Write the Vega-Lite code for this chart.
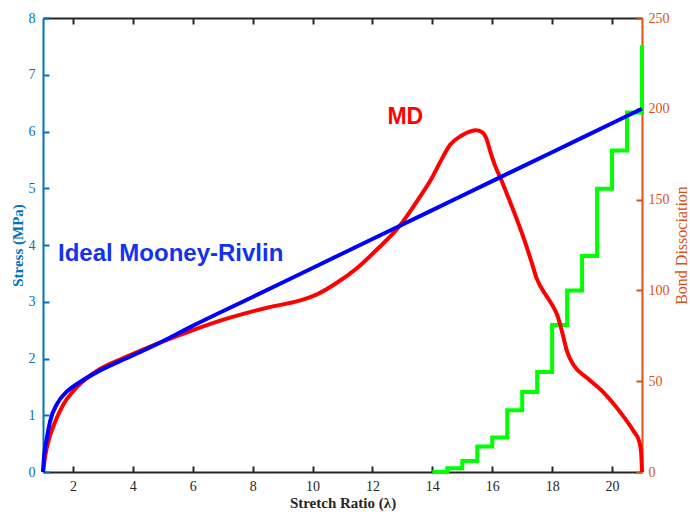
{
  "$schema": "https://vega.github.io/schema/vega-lite/v6.json",
  "width": 599,
  "height": 454,
  "autosize": {"type": "none"},
  "padding": {"left": 43, "top": 18, "right": 48, "bottom": 40},
  "background": "white",
  "config": {
    "view": {"stroke": null},
    "axis": {"grid": false, "labelFont": "Liberation Serif", "titleFont": "Liberation Serif", "labelFlush": false, "labelOverlap": false, "format": "d"}
  },
  "datasets": {
    "mr": [
      {"stretch": 1.0, "stress": 0},
      {"stretch": 1.04, "stress": 0.3},
      {"stretch": 1.13, "stress": 0.6},
      {"stretch": 1.24, "stress": 0.9},
      {"stretch": 1.47, "stress": 1.2},
      {"stretch": 1.8, "stress": 1.42},
      {"stretch": 2.25, "stress": 1.59},
      {"stretch": 2.8, "stress": 1.76},
      {"stretch": 3.9, "stress": 2.03},
      {"stretch": 4.8, "stress": 2.25},
      {"stretch": 6.0, "stress": 2.575},
      {"stretch": 8.0, "stress": 3.085},
      {"stretch": 10.0, "stress": 3.595},
      {"stretch": 12.0, "stress": 4.105},
      {"stretch": 14.0, "stress": 4.615},
      {"stretch": 16.0, "stress": 5.125},
      {"stretch": 18.0, "stress": 5.635},
      {"stretch": 20.0, "stress": 6.145},
      {"stretch": 21.0, "stress": 6.4}
    ],
    "md": [
      {"stretch": 1.0, "stress": 0},
      {"stretch": 1.08, "stress": 0.3},
      {"stretch": 1.2, "stress": 0.58},
      {"stretch": 1.35, "stress": 0.81},
      {"stretch": 1.5, "stress": 1.0},
      {"stretch": 1.69, "stress": 1.2},
      {"stretch": 2.0, "stress": 1.42},
      {"stretch": 2.25, "stress": 1.56},
      {"stretch": 2.8, "stress": 1.78},
      {"stretch": 3.7, "stress": 2.01},
      {"stretch": 4.8, "stress": 2.26},
      {"stretch": 5.9, "stress": 2.48},
      {"stretch": 7.0, "stress": 2.68},
      {"stretch": 8.0, "stress": 2.83},
      {"stretch": 8.6, "stress": 2.91},
      {"stretch": 9.5, "stress": 3.01},
      {"stretch": 10.15, "stress": 3.13},
      {"stretch": 10.8, "stress": 3.33},
      {"stretch": 11.5, "stress": 3.6},
      {"stretch": 12.15, "stress": 3.92},
      {"stretch": 12.9, "stress": 4.33},
      {"stretch": 13.6, "stress": 4.86},
      {"stretch": 13.95, "stress": 5.15},
      {"stretch": 14.3, "stress": 5.5},
      {"stretch": 14.6, "stress": 5.77},
      {"stretch": 14.95, "stress": 5.92},
      {"stretch": 15.2, "stress": 5.99},
      {"stretch": 15.45, "stress": 6.02},
      {"stretch": 15.65, "stress": 5.99},
      {"stretch": 15.8, "stress": 5.88},
      {"stretch": 15.95, "stress": 5.62},
      {"stretch": 16.1, "stress": 5.39},
      {"stretch": 16.3, "stress": 5.15},
      {"stretch": 16.45, "stress": 4.95},
      {"stretch": 16.75, "stress": 4.55},
      {"stretch": 17.05, "stress": 4.12},
      {"stretch": 17.3, "stress": 3.72},
      {"stretch": 17.5, "stress": 3.39},
      {"stretch": 17.75, "stress": 3.15},
      {"stretch": 17.96, "stress": 2.98},
      {"stretch": 18.18, "stress": 2.75},
      {"stretch": 18.35, "stress": 2.43},
      {"stretch": 18.5, "stress": 2.12},
      {"stretch": 18.72, "stress": 1.88},
      {"stretch": 19.16, "stress": 1.66},
      {"stretch": 19.72, "stress": 1.4},
      {"stretch": 20.28, "stress": 1.05},
      {"stretch": 20.72, "stress": 0.72},
      {"stretch": 20.9, "stress": 0.55},
      {"stretch": 20.97, "stress": 0.35},
      {"stretch": 21.0, "stress": 0}
    ],
    "bonds": [
      {"stretch": 14.0, "bonds": 0},
      {"stretch": 14.5, "bonds": 2},
      {"stretch": 15.0, "bonds": 6},
      {"stretch": 15.5, "bonds": 14},
      {"stretch": 16.0, "bonds": 19},
      {"stretch": 16.5, "bonds": 34},
      {"stretch": 17.0, "bonds": 44},
      {"stretch": 17.5, "bonds": 55},
      {"stretch": 18.0, "bonds": 81},
      {"stretch": 18.5, "bonds": 100},
      {"stretch": 19.0, "bonds": 119},
      {"stretch": 19.5, "bonds": 156},
      {"stretch": 20.0, "bonds": 177},
      {"stretch": 20.5, "bonds": 198},
      {"stretch": 21.0, "bonds": 235}
    ]
  },
  "layer": [
    {
      "data": {"name": "bonds"},
      "mark": {"type": "line", "interpolate": "step-after", "color": "#00FF00", "strokeWidth": 4},
      "encoding": {
        "x": {
          "field": "stretch", "type": "quantitative",
          "scale": {"domain": [1, 21], "nice": false, "zero": false},
          "axis": {"orient": "top", "labels": false, "title": null, "values": [2, 4, 6, 8, 10, 12, 14, 16, 18, 20], "tickSize": -6, "tickWidth": 2, "tickColor": "#262626", "domainColor": "#262626", "domainWidth": 2}
        },
        "y": {
          "field": "bonds", "type": "quantitative",
          "scale": {"domain": [0, 250], "nice": false},
          "axis": {"orient": "right", "title": "Bond Dissociation", "titleColor": "#D95319", "titleFontSize": 16, "titleFontWeight": "normal", "titleAngle": 270, "titleBaseline": "top", "titlePadding": 4, "labelColor": "#D95319", "labelFontSize": 14, "labelPadding": 12, "values": [0, 50, 100, 150, 200, 250], "tickSize": -6, "tickWidth": 2, "tickColor": "#D95319", "domainColor": "#D95319", "domainWidth": 2}
        }
      }
    },
    {
      "layer": [
        {
          "data": {"name": "md"},
          "mark": {"type": "line", "color": "#FF0000", "strokeWidth": 4, "interpolate": "monotone"},
          "encoding": {
            "x": {
              "field": "stretch", "type": "quantitative",
              "scale": {"domain": [1, 21], "nice": false, "zero": false},
              "axis": {"orient": "bottom", "title": "Stretch Ratio (λ)", "titleFontWeight": "bold", "titleFontSize": 15, "titleColor": "#262626", "titlePadding": 2, "labelColor": "#262626", "labelFontSize": 14, "labelPadding": 13, "values": [2, 4, 6, 8, 10, 12, 14, 16, 18, 20], "tickSize": -6, "tickWidth": 2, "tickColor": "#262626", "domainColor": "#262626", "domainWidth": 2}
            },
            "y": {
              "field": "stress", "type": "quantitative",
              "scale": {"domain": [0, 8], "nice": false},
              "axis": {"orient": "left", "title": "Stress (MPa)", "titleColor": "#0072BD", "titleFontSize": 15, "titleFontWeight": "bold", "titlePadding": 3, "labelColor": "#0072BD", "labelFontSize": 14, "labelPadding": 14, "values": [0, 1, 2, 3, 4, 5, 6, 7, 8], "tickSize": -6, "tickWidth": 2, "tickColor": "#0072BD", "domainColor": "#0072BD", "domainWidth": 2}
            }
          }
        },
        {
          "data": {"name": "mr"},
          "mark": {"type": "line", "color": "#0000FF", "strokeWidth": 4, "interpolate": "monotone"},
          "encoding": {
            "x": {"field": "stretch", "type": "quantitative"},
            "y": {"field": "stress", "type": "quantitative"}
          }
        },
        {
          "data": {"values": [{"label": "Ideal Mooney-Rivlin"}]},
          "mark": {"type": "text", "align": "left", "baseline": "middle", "font": "Liberation Sans", "fontWeight": "bold", "fontSize": 24, "color": "#1432F0"},
          "encoding": {
            "x": {"datum": 1.5, "type": "quantitative"},
            "y": {"datum": 3.85, "type": "quantitative"},
            "text": {"field": "label"}
          }
        },
        {
          "data": {"values": [{"label": "MD"}]},
          "mark": {"type": "text", "align": "left", "baseline": "middle", "font": "Liberation Sans", "fontWeight": "bold", "fontSize": 23, "color": "#FF0000"},
          "encoding": {
            "x": {"datum": 12.5, "type": "quantitative"},
            "y": {"datum": 6.26, "type": "quantitative"},
            "text": {"field": "label"}
          }
        }
      ]
    }
  ],
  "resolve": {"scale": {"y": "independent"}, "axis": {"x": "independent", "y": "independent"}}
}
